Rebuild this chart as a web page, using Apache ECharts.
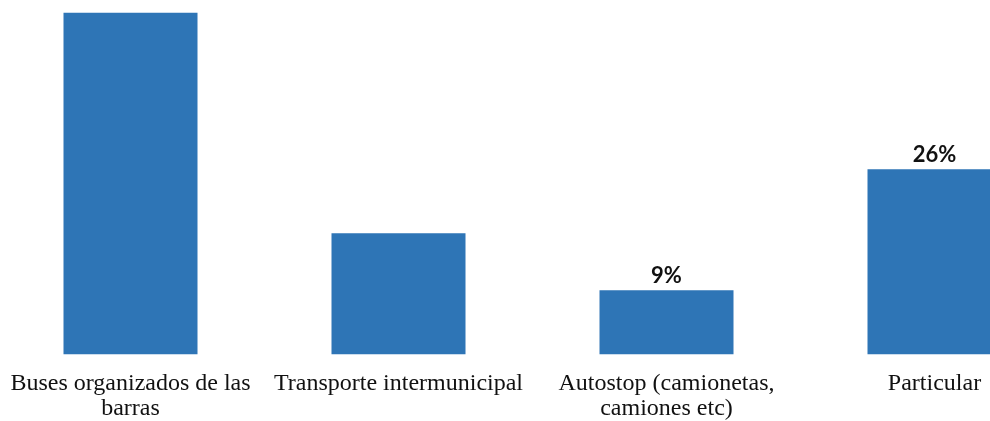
<!DOCTYPE html>
<html>
<head>
<meta charset="utf-8">
<script src="https://cdn.jsdelivr.net/npm/echarts@6/dist/echarts.min.js"></script>
<style>
html,body{margin:0;padding:0;background:#fff;}
#chart{width:990px;height:421px;}
</style>
</head>
<body>
<div id="chart"></div>
<script>
const categories = [
  'Buses organizados de las\nbarras',
  'Transporte intermunicipal',
  'Autostop (camionetas,\ncamiones etc)',
  'Particular'
];
const values = [48, 17, 9, 26];
const showLabel = [false, false, true, true];

const chart = echarts.init(document.getElementById('chart'));
chart.setOption({
  animation: false,
  backgroundColor: '#ffffff',
  grid: { left: -3.5, width: 1072, top: -1.5, bottom: 66.7, containLabel: false, outerBoundsMode: 'none' },
  xAxis: {
    type: 'category',
    data: categories,
    axisLine: { show: false },
    axisTick: { show: false },
    axisLabel: {
      interval: 0,
      margin: 17,
      fontFamily: 'Liberation Serif',
      fontSize: 24,
      lineHeight: 25,
      color: '#111111',
      hideOverlap: false
    }
  },
  yAxis: {
    type: 'value',
    min: 0,
    max: 50,
    show: false,
    splitLine: { show: false }
  },
  series: [{
    type: 'bar',
    barWidth: '50%',
    data: values.map((v, i) => ({
      value: v,
      label: { show: showLabel[i] }
    })),
    itemStyle: { color: '#2E75B6' },
    label: {
      position: 'top',
      distance: 3,
      formatter: '{c}%',
      fontFamily: 'Lato',
      fontWeight: 'bold',
      fontSize: 22,
      color: '#111111'
    }
  }]
});
</script>
</body>
</html>
